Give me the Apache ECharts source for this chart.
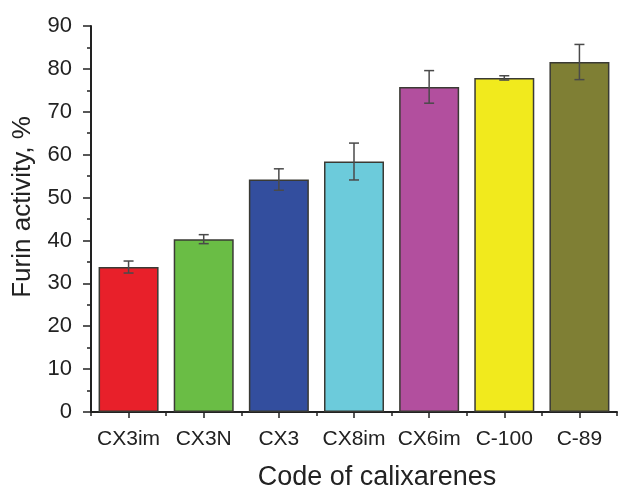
<!DOCTYPE html>
<html>
<head>
<meta charset="utf-8">
<script src="https://cdn.jsdelivr.net/npm/echarts@6/dist/echarts.min.js"></script>
<style>
html,body{margin:0;padding:0;background:#fff;}
#chart{width:620px;height:488px;}
</style>
</head>
<body>
<div id="chart"></div>
<script>
var categories = ['CX3im', 'CX3N', 'CX3', 'CX8im', 'CX6im', 'C-100', 'C-89'];
var values = [33.8, 40.3, 54.2, 58.4, 75.8, 77.9, 81.6];
var errors = [1.4, 1.05, 2.5, 4.3, 3.8, 0.5, 4.1];
var barColors = ['#e8202a', '#6abd45', '#334e9e', '#6ccbdb', '#b24f9e', '#f1ea1d', '#7f7f34'];
var yTicks = [0, 10, 20, 30, 40, 50, 60, 70, 80, 90];

var chart = echarts.init(document.getElementById('chart'), null, {renderer: 'canvas'});
var font = 'Liberation Sans, Arial, sans-serif';
var ink = '#222';

var option = {
  animation: false,
  backgroundColor: '#fff',
  grid: {left: 91, right: 3, top: 26, bottom: 76, containLabel: false},
  xAxis: [{
    type: 'category',
    data: categories,
    axisLine: {show: true, lineStyle: {color: ink, width: 2}},
    axisTick: {show: true, alignWithLabel: true, interval: 0, length: 6, lineStyle: {color: ink, width: 1.5}},
    axisLabel: {color: ink, fontSize: 21, fontFamily: font, margin: 17, interval: 0, hideOverlap: false},
    splitLine: {show: false}
  }, {
    type: 'category',
    data: categories,
    position: 'bottom',
    axisLine: {show: false},
    axisTick: {show: true, alignWithLabel: false, interval: 0, length: 4, lineStyle: {color: ink, width: 1.5}},
    axisLabel: {show: false},
    splitLine: {show: false}
  }],
  yAxis: {
    type: 'value',
    min: yTicks[0],
    max: yTicks[yTicks.length - 1],
    interval: 10,
    axisLine: {show: true, lineStyle: {color: ink, width: 2}},
    axisTick: {show: true, length: 8, lineStyle: {color: ink, width: 1.5}},
    minorTick: {show: true, splitNumber: 2, length: 4, lineStyle: {color: ink, width: 1.5}},
    axisLabel: {color: ink, fontSize: 22, fontFamily: font, margin: 19},
    splitLine: {show: false}
  },
  graphic: [
    {
      type: 'text',
      x: 23, y: 207,
      rotation: Math.PI / 2,
      style: {text: 'Furin activity, %', fill: ink, font: '26px ' + font, textAlign: 'center', textVerticalAlign: 'middle'}
    },
    {
      type: 'text',
      x: 377, y: 478,
      style: {text: 'Code of calixarenes', fill: ink, font: '27px ' + font, textAlign: 'center', textVerticalAlign: 'middle'}
    }
  ],
  series: [{
    type: 'bar',
    xAxisIndex: 0,
    barWidth: 60,
    data: values.map(function (v, i) {
      return {value: v, itemStyle: {color: barColors[i]}};
    }),
    itemStyle: {borderColor: '#3a3a34', borderWidth: 1.5},
    z: 2
  }, {
    type: 'custom',
    xAxisIndex: 0,
    z: 5,
    data: values.map(function (v, i) { return [i, v - errors[i], v + errors[i]]; }),
    renderItem: function (params, api) {
      var lo = api.coord([api.value(0), api.value(1)]);
      var hi = api.coord([api.value(0), api.value(2)]);
      var hw = 5;
      var st = {stroke: '#4a4a4a', lineWidth: 1.5};
      return {
        type: 'group',
        children: [
          {type: 'line', shape: {x1: hi[0], y1: hi[1], x2: lo[0], y2: lo[1]}, style: st},
          {type: 'line', shape: {x1: hi[0] - hw, y1: hi[1], x2: hi[0] + hw, y2: hi[1]}, style: st},
          {type: 'line', shape: {x1: lo[0] - hw, y1: lo[1], x2: lo[0] + hw, y2: lo[1]}, style: st}
        ]
      };
    }
  }]
};
chart.setOption(option);
</script>
</body>
</html>
